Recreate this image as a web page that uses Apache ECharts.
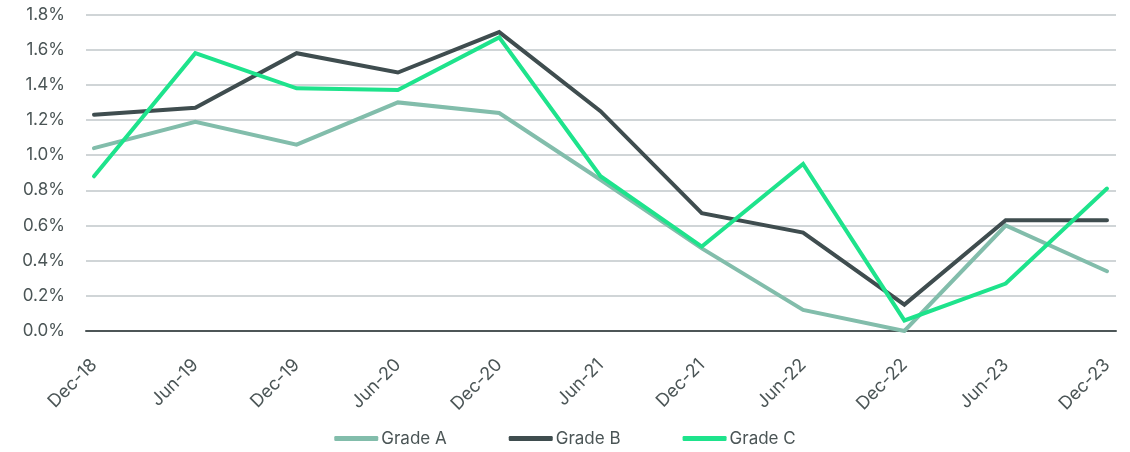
<!DOCTYPE html>
<html>
<head>
<meta charset="utf-8">
<script src="https://cdn.jsdelivr.net/npm/echarts@6/dist/echarts.min.js"></script>
<style>
  html, body { margin: 0; padding: 0; background: #ffffff; }
  #chart { width: 1130px; height: 452px; }
</style>
</head>
<body>
<div id="chart"></div>
<script>
// Half-year periods on the horizontal axis
const periods = ['Dec-18', 'Jun-19', 'Dec-19', 'Jun-20', 'Dec-20', 'Jun-21',
                 'Dec-21', 'Jun-22', 'Dec-22', 'Jun-23', 'Dec-23'];

// Rates in percent
const gradeA = [1.04, 1.19, 1.06, 1.30, 1.24, 0.86, 0.47, 0.12, 0.00, 0.60, 0.34];
const gradeB = [1.23, 1.27, 1.58, 1.47, 1.70, 1.25, 0.67, 0.56, 0.15, 0.63, 0.63];
const gradeC = [0.88, 1.58, 1.38, 1.37, 1.67, 0.88, 0.48, 0.95, 0.06, 0.27, 0.81];

const yTicks = [0, 0.2, 0.4, 0.6, 0.8, 1.0, 1.2, 1.4, 1.6, 1.8];

const textColor = '#4b5556';
const fontFamily = 'Inter, Roboto, sans-serif';

// Pair each value with its period index so points sit on the period ticks
const toPoints = arr => arr.map((v, i) => [i, v]);

const lineSeries = (name, values, color) => ({
  name: name,
  type: 'line',
  data: toPoints(values),
  symbol: 'none',
  lineStyle: { color: color, width: 4, cap: 'round', join: 'miter' },
  itemStyle: { color: color },
  emphasis: { disabled: true }
});

const chart = echarts.init(document.getElementById('chart'), null, { renderer: 'canvas' });

chart.setOption({
  animation: false,
  backgroundColor: '#ffffff',
  grid: { left: 86, right: 14, top: 14.5, height: 316.5, containLabel: false },
  xAxis: {
    type: 'value',
    min: -0.079,
    max: 10.089,
    axisLine: { show: true, onZero: false, lineStyle: { color: '#4d5657', width: 2 } },
    axisTick: { show: false },
    splitLine: { show: false },
    axisLabel: {
      customValues: periods.map((p, i) => i),
      formatter: v => periods[Math.round(v)],
      rotate: 45,
      margin: 31,
      color: textColor,
      fontSize: 18,
      fontFamily: fontFamily
    }
  },
  yAxis: {
    type: 'value',
    min: yTicks[0],
    max: yTicks[yTicks.length - 1],
    interval: 0.2,
    axisLine: { show: false },
    axisTick: { show: false },
    splitLine: { show: true, lineStyle: { color: '#d0d5d7', width: 2 } },
    axisLabel: {
      formatter: v => v.toFixed(1) + '%',
      margin: 21,
      color: textColor,
      fontSize: 17,
      fontFamily: fontFamily
    }
  },
  legend: {
    top: 425,
    left: 'center',
    icon: 'roundRect',
    itemWidth: 44,
    itemHeight: 5,
    itemGap: 62,
    textStyle: { color: textColor, fontSize: 17, fontFamily: fontFamily, padding: [0, 0, 0, -2] },
    data: ['Grade A', 'Grade B', 'Grade C']
  },
  series: [
    lineSeries('Grade A', gradeA, '#82bdab'),
    lineSeries('Grade B', gradeB, '#3f4d4f'),
    lineSeries('Grade C', gradeC, '#1ee38c')
  ]
});
</script>
</body>
</html>
